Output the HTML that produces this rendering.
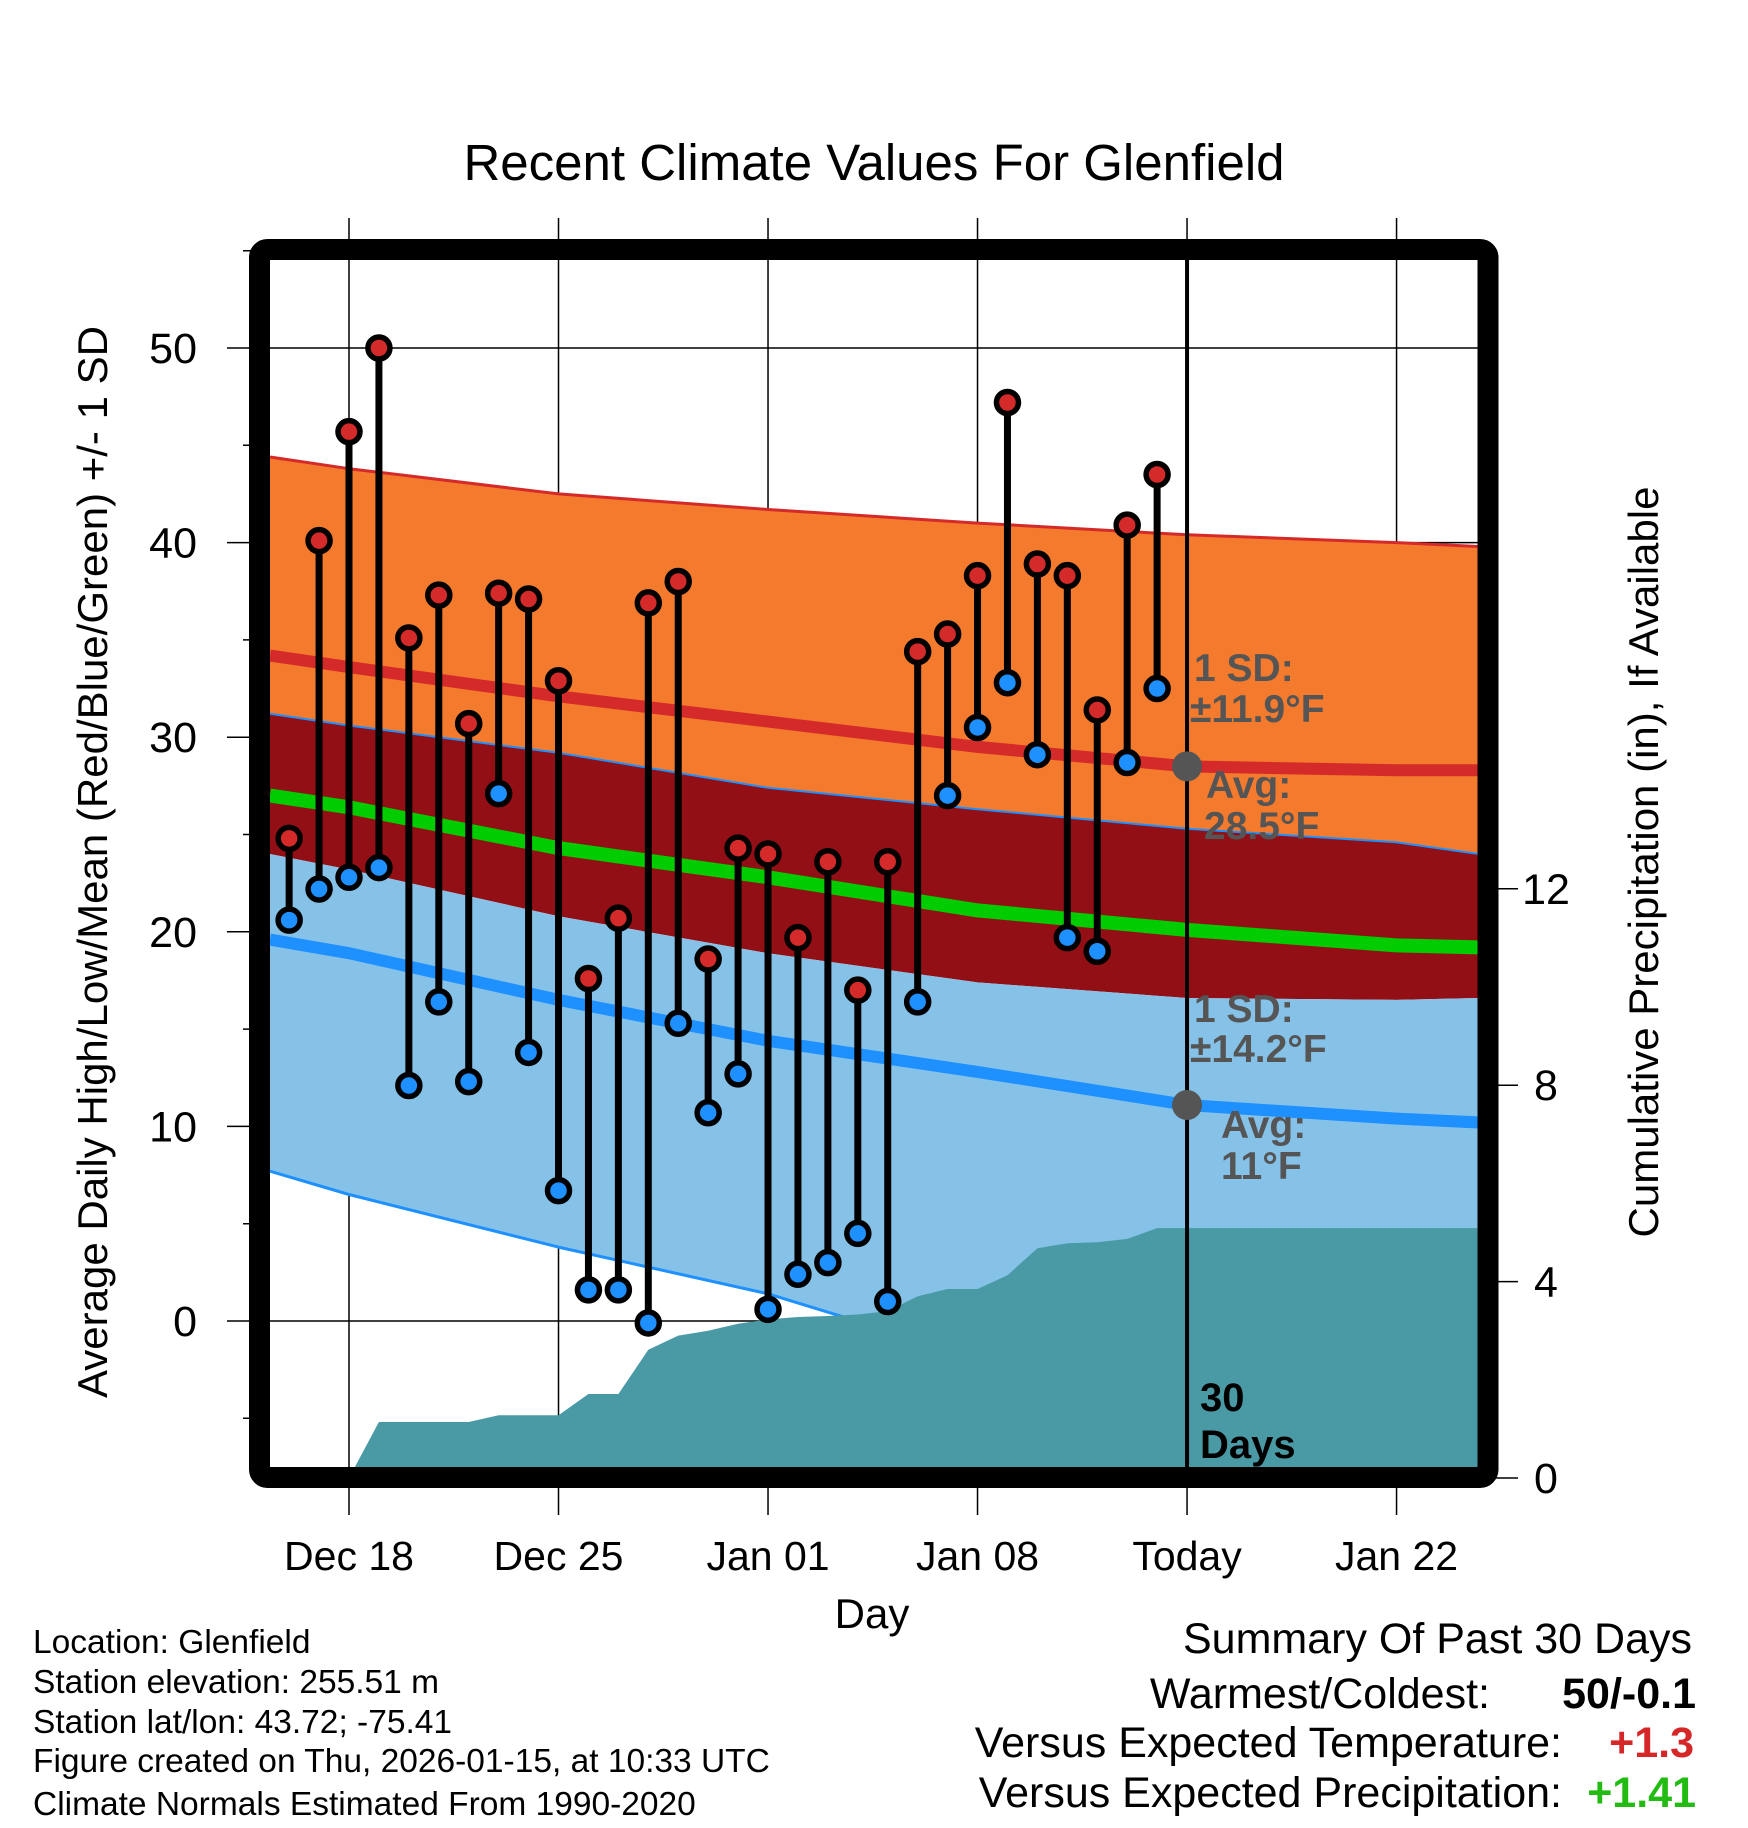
<!DOCTYPE html>
<html><head><meta charset="utf-8"><style>
html,body{margin:0;padding:0;background:#fff;}
svg{display:block;font-family:"Liberation Sans",sans-serif;}
</style></head><body>
<svg id="chart" width="1748" height="1828" viewBox="0 0 1748 1828" xmlns="http://www.w3.org/2000/svg">
<defs><clipPath id="plotclip"><rect x="270" y="260" width="1208" height="1207"/></clipPath></defs>
<rect width="1748" height="1828" fill="#fff"/>
<text x="874" y="180" font-size="51" text-anchor="middle">Recent Climate Values For Glenfield</text>
<g id="grid"></g>
<g id="plot" clip-path="url(#plotclip)"></g>
<g id="marks"></g>
<rect x="259.5" y="249.5" width="1228.5" height="1228" rx="8" fill="none" stroke="#000" stroke-width="21"/>
<g id="axes"></g>
<text transform="translate(107,862) rotate(-90)" font-size="42" text-anchor="middle">Average Daily High/Low/Mean (Red/Blue/Green) +/- 1 SD</text>
<text transform="translate(1658,862) rotate(-90)" font-size="42" text-anchor="middle">Cumulative Precipitation (in), If Available</text>
<text x="872" y="1628" font-size="42" text-anchor="middle">Day</text>
<g font-size="39" font-weight="bold" fill="#555">
<text x="1194" y="681">1 SD:</text><text x="1190" y="722">±11.9°F</text>
<text x="1206" y="798">Avg:</text><text x="1204" y="839">28.5°F</text></g>
<g font-size="39" font-weight="bold" fill="#555">
<text x="1194" y="1022">1 SD:</text><text x="1190" y="1062">±14.2°F</text>
<text x="1221" y="1138">Avg:</text><text x="1221" y="1179">11°F</text></g>
<g font-size="40" font-weight="bold" fill="#000">
<text x="1200" y="1411">30</text><text x="1200" y="1458">Days</text></g>
<g font-size="33.5" fill="#000">
<text x="33" y="1653">Location: Glenfield</text>
<text x="33" y="1693">Station elevation: 255.51 m</text>
<text x="33" y="1733">Station lat/lon: 43.72; -75.41</text>
<text x="33" y="1772">Figure created on Thu, 2026-01-15, at 10:33 UTC</text>
<text x="33" y="1815">Climate Normals Estimated From 1990-2020</text></g>
<g font-size="43" fill="#000">
<text x="1692" y="1653" text-anchor="end">Summary Of Past 30 Days</text>
<text x="1490" y="1708" text-anchor="end">Warmest/Coldest:</text>
<text x="1696" y="1708" text-anchor="end" font-weight="bold">50/-0.1</text>
<text x="1562" y="1757" text-anchor="end">Versus Expected Temperature:</text>
<text x="1694" y="1757" text-anchor="end" font-weight="bold" fill="#d62728">+1.3</text>
<text x="1562" y="1807" text-anchor="end">Versus Expected Precipitation:</text>
<text x="1696" y="1807" text-anchor="end" font-weight="bold" fill="#22bb11">+1.41</text></g>
</svg>
<script>
// day offsets relative to Dec 18
const highs=[24.8,40.1,45.7,50,35.1,37.3,30.7,37.4,37.1,32.9,17.6,20.7,36.9,38.0,18.6,24.3,24.0,19.7,23.6,17.0,23.6,34.4,35.3,38.3,47.2,38.9,38.3,31.4,40.9,43.5];
const lows=[20.6,22.2,22.8,23.3,12.1,16.4,12.3,27.1,13.8,6.7,1.6,1.6,-0.1,15.3,10.7,12.7,0.6,2.4,3.0,4.5,1.0,16.4,27.0,30.5,32.8,29.1,19.7,19.0,28.7,32.5];
const normDays=[-2.64,0,7,14,21,28,35,37.76];
const highUpper=[44.4,43.8,42.5,41.7,41.0,40.4,40.0,39.8];
const highAvg=[34.2,33.6,32.1,30.8,29.5,28.5,28.3,28.3];
const highLower=[31.2,30.6,29.2,27.4,26.3,25.3,24.6,24.0];
const meanAvg=[27.0,26.4,24.3,22.8,21.1,20.1,19.3,19.2];
const lowUpper=[24.0,23.2,20.8,18.9,17.4,16.6,16.5,16.6];
const lowAvg=[19.6,18.9,16.5,14.4,12.8,11.1,10.4,10.2];
const lowLower=[7.7,6.5,3.8,1.4,-1.9,-3.5,-4.5,-4.8];
const precip=[0,1.14,1.14,1.14,1.14,1.28,1.28,1.28,1.71,1.71,2.61,2.9,3.0,3.14,3.23,3.28,3.3,3.33,3.4,3.7,3.85,3.85,4.13,4.68,4.78,4.8,4.87,5.09,5.09];
const xLabels=["Dec 18","Dec 25","Jan 01","Jan 08","Today","Jan 22"];
const yTicks=[0,10,20,30,40,50];
const y2Ticks=[0,4,8,12];

const NS="http://www.w3.org/2000/svg";
const X=d=>349+d*29.93;
const Y=v=>1321-v*19.46;
const P=v=>1478-v*49.1;
function mk(parent,tag,attrs){const e=document.createElementNS(NS,tag);for(const k in attrs)e.setAttribute(k,attrs[k]);document.getElementById(parent).appendChild(e);return e;}
function pts(days,vals,f){return days.map((d,i)=>X(d).toFixed(1)+","+f(vals[i]).toFixed(1));}
function band(upper,lower,fill,name){
  const p=pts(normDays,upper,Y).concat(pts(normDays,lower,Y).reverse());
  const e=mk('plot','polygon',{points:p.join(' '),fill:fill});
  
  
}
function line(vals,color,w,name){
  const e=mk('plot','polyline',{points:pts(normDays,vals,Y).join(' '),fill:'none',stroke:color,'stroke-width':w,'stroke-linejoin':'round'});
  
  
}
band(highUpper,highLower,'#f47a2e','high-sd-band');
band(highLower,lowUpper,'#930f16','overlap-band');
band(lowUpper,lowLower,'#86c2e8','low-sd-band');
line(highUpper,'#d42a2a',3,'high-upper-edge');
line(highLower,'#1e90ff',2,'high-lower-edge');
line(lowLower,'#1e90ff',3,'low-lower-edge');
line(highAvg,'#d42a2a',12,'high-avg-line');
line(meanAvg,'#00cc00',14,'mean-avg-line');
line(lowAvg,'#1e90ff',12,'low-avg-line');
{
  const pd=precip.map((v,i)=>i).concat([38]);
  const pv=precip.concat([precip[precip.length-1]]);
  const p=pts(pd,pv,P);p.push(X(38)+","+P(0),X(0)+","+P(0));
  const e=mk('plot','polygon',{points:p.join(' '),fill:'#4a9aa6'});
  
  
}
xLabels.forEach((l,i)=>{
  const x=X(i*7);
  const g=mk('grid','line',{x1:x,x2:x,y1:218,y2:1515,stroke:'#000','stroke-width':1.5});
  
  
  const t=mk('axes','text',{x:x,y:1570,'font-size':41,'text-anchor':'middle'});t.textContent=l;
  
  
});
yTicks.forEach(v=>{
  const y=Y(v);
  const g=mk('grid','line',{x1:227,x2:1478,y1:y,y2:y,stroke:'#000','stroke-width':1.5});
  
  
  const t=mk('axes','text',{x:197,y:y+15,'font-size':43,'text-anchor':'end'});t.textContent=v;
  
  
});
[-5,5,15,25,35,45,55].forEach(v=>{
  const e=mk('grid','line',{x1:243,x2:260,y1:Y(v),y2:Y(v),stroke:'#000','stroke-width':1.5});
  
  
});
y2Ticks.forEach(v=>{
  const y=P(v);
  const e=mk('axes','line',{x1:1490,x2:1518,y1:y,y2:y,stroke:'#000','stroke-width':1.5});
  
  
  const t=mk('axes','text',{x:1546,y:y+15,'font-size':43,'text-anchor':'middle'});t.textContent=v;
  
  
});
{const e=mk('marks','line',{x1:X(28),x2:X(28),y1:260,y2:1467,stroke:'#000','stroke-width':4});

}
[[highAvg[5],'today-high-avg-dot'],[lowAvg[5],'today-low-avg-dot']].forEach(a=>{
  const e=mk('marks','circle',{cx:X(28),cy:Y(a[0]),r:15,fill:'#555'});
  
  
});
highs.forEach((h,i)=>{
  const x=X(i-2);
  const s=mk('marks','line',{x1:x,x2:x,y1:Y(h),y2:Y(lows[i]),stroke:'#000','stroke-width':7});
  
  
  const c1=mk('marks','circle',{cx:x,cy:Y(h),r:11,fill:'#d42a2a',stroke:'#000','stroke-width':5.5});
  
  
  const c2=mk('marks','circle',{cx:x,cy:Y(lows[i]),r:11,fill:'#1e90ff',stroke:'#000','stroke-width':5.5});
  
  
});
</script>
</body></html>
